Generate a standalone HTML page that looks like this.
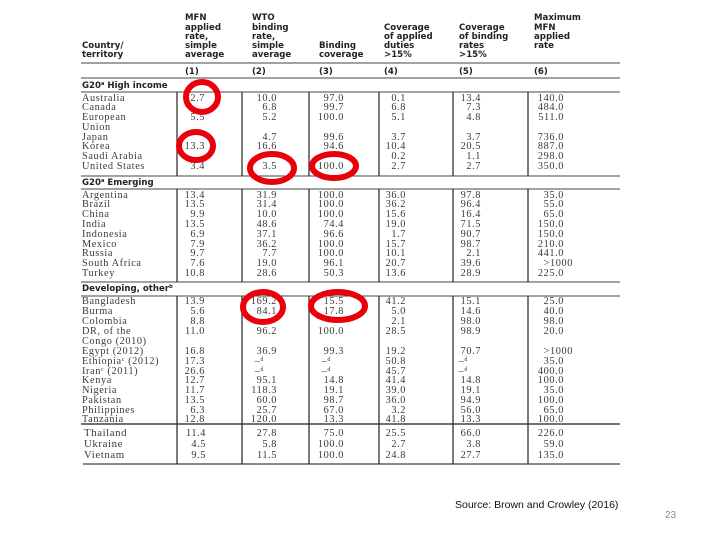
<!DOCTYPE html>
<html><head><meta charset="utf-8"><style>
html,body{margin:0;padding:0;background:#fff;}
svg{display:block;}
.h{font-family:"DejaVu Sans","Liberation Sans",sans-serif;font-weight:bold;font-size:8.6px;fill:#222;}
.t{font-family:"Liberation Serif",serif;font-size:10.3px;fill:#3a3a3a;letter-spacing:0.6px;}
.r{text-anchor:end;}
</style></head><body>
<svg width="720" height="540" viewBox="0 0 720 540" xmlns="http://www.w3.org/2000/svg">
<g class="h">
<text x="185" y="20">MFN</text><text x="185" y="30">applied</text><text x="185" y="39">rate,</text><text x="185" y="48">simple</text><text x="185" y="57">average</text>
<text x="252" y="20">WTO</text><text x="252" y="30">binding</text><text x="252" y="39">rate,</text><text x="252" y="48">simple</text><text x="252" y="57">average</text>
<text x="82" y="48">Country/</text><text x="82" y="57">territory</text>
<text x="319" y="48">Binding</text><text x="319" y="57">coverage</text>
<text x="384" y="30">Coverage</text><text x="384" y="39">of applied</text><text x="384" y="48">duties</text><text x="384" y="57">&gt;15%</text>
<text x="459" y="30">Coverage</text><text x="459" y="39">of binding</text><text x="459" y="48">rates</text><text x="459" y="57">&gt;15%</text>
<text x="534" y="20">Maximum</text><text x="534" y="30">MFN</text><text x="534" y="39">applied</text><text x="534" y="48">rate</text>
<text x="185" y="74">(1)</text><text x="252" y="74">(2)</text><text x="319" y="74">(3)</text><text x="384" y="74">(4)</text><text x="459" y="74">(5)</text><text x="534" y="74">(6)</text>
<text x="82" y="88" font-size="8.6">G20<tspan font-size="5" dy="-3">a</tspan><tspan dy="3"> High income</tspan></text>
<text x="82" y="185" font-size="8.6">G20<tspan font-size="5" dy="-3">a</tspan><tspan dy="3"> Emerging</tspan></text>
<text x="82" y="291" font-size="8.6">Developing, other<tspan font-size="5" dy="-3">b</tspan></text>
</g>
<g stroke="#444" stroke-width="1">
<line x1="81" y1="63" x2="620" y2="63"/>
<line x1="81" y1="78" x2="620" y2="78"/>
<line x1="81" y1="92" x2="620" y2="92"/>
<line x1="81" y1="176" x2="620" y2="176"/>
<line x1="81" y1="189" x2="620" y2="189"/>
<line x1="81" y1="282" x2="620" y2="282"/>
<line x1="81" y1="296" x2="620" y2="296"/>
<line x1="81" y1="424" x2="620" y2="424" stroke-width="1.5"/>
<line x1="83" y1="464" x2="620" y2="464" stroke-width="1.3"/>
</g>
<g stroke="#333" stroke-width="1.3">
<path d="M177 92V176M177 189V282M177 296V464"/>
<path d="M242 92V176M242 189V282M242 296V464"/>
<path d="M309 92V176M309 189V282M309 296V464"/>
<path d="M379 92V176M379 189V282M379 296V464"/>
<path d="M453 92V176M453 189V282M453 296V464"/>
<path d="M528 92V176M528 189V282M528 296V464"/>
</g>
<g class="t">
<text x="82" y="101">Australia</text><text x="82" y="110">Canada</text><text x="82" y="120">European</text><text x="82" y="130">Union</text><text x="82" y="140">Japan</text><text x="82" y="149">Korea</text><text x="82" y="159">Saudi Arabia</text><text x="82" y="169">United States</text>
<text x="82" y="198">Argentina</text><text x="82" y="207">Brazil</text><text x="82" y="217">China</text><text x="82" y="227">India</text><text x="82" y="237">Indonesia</text><text x="82" y="247">Mexico</text><text x="82" y="256">Russia</text><text x="82" y="266">South Africa</text><text x="82" y="276">Turkey</text>
<text x="82" y="304">Bangladesh</text><text x="82" y="314">Burma</text><text x="82" y="324">Colombia</text><text x="82" y="334">DR, of the</text><text x="82" y="344">Congo (2010)</text><text x="82" y="354">Egypt (2012)</text><text x="82" y="364">Ethiopia<tspan font-size="6" dy="-3">c</tspan><tspan dy="3"> (2012)</tspan></text><text x="82" y="374">Iran<tspan font-size="6" dy="-3">c</tspan><tspan dy="3"> (2011)</tspan></text><text x="82" y="383">Kenya</text><text x="82" y="393">Nigeria</text><text x="82" y="403">Pakistan</text><text x="82" y="413">Philippines</text><text x="82" y="422">Tanzania</text>
<text x="84" y="436" font-size="10.8">Thailand</text><text x="84" y="447" font-size="10.8">Ukraine</text><text x="84" y="458" font-size="10.8">Vietnam</text>
</g>
<g class="t r">
<text x="205" y="101">2.7</text><text x="205" y="120">5.5</text><text x="205" y="149">13.3</text><text x="205" y="169">3.4</text>
<text x="205" y="198">13.4</text><text x="205" y="207">13.5</text><text x="205" y="217">9.9</text><text x="205" y="227">13.5</text><text x="205" y="237">6.9</text><text x="205" y="247">7.9</text><text x="205" y="256">9.7</text><text x="205" y="266">7.6</text><text x="205" y="276">10.8</text>
<text x="205" y="304">13.9</text><text x="205" y="314">5.6</text><text x="205" y="324">8.8</text><text x="205" y="334">11.0</text><text x="205" y="354">16.8</text><text x="205" y="364">17.3</text><text x="205" y="374">26.6</text><text x="205" y="383">12.7</text><text x="205" y="393">11.7</text><text x="205" y="403">13.5</text><text x="205" y="413">6.3</text><text x="205" y="422">12.8</text>
<text x="206" y="436">11.4</text><text x="206" y="447">4.5</text><text x="206" y="458">9.5</text>
<text x="277" y="101">10.0</text><text x="277" y="110">6.8</text><text x="277" y="120">5.2</text><text x="277" y="140">4.7</text><text x="277" y="149">16.6</text><text x="277" y="169">3.5</text>
<text x="277" y="198">31.9</text><text x="277" y="207">31.4</text><text x="277" y="217">10.0</text><text x="277" y="227">48.6</text><text x="277" y="237">37.1</text><text x="277" y="247">36.2</text><text x="277" y="256">7.7</text><text x="277" y="266">19.0</text><text x="277" y="276">28.6</text>
<text x="277" y="304">169.2</text><text x="277" y="314">84.1</text><text x="277" y="334">96.2</text><text x="277" y="354">36.9</text><text x="264" y="364">–<tspan font-size="6" dy="-3">d</tspan></text><text x="264" y="374">–<tspan font-size="6" dy="-3">d</tspan></text><text x="277" y="383">95.1</text><text x="277" y="393">118.3</text><text x="277" y="403">60.0</text><text x="277" y="413">25.7</text><text x="277" y="422">120.0</text>
<text x="277" y="436">27.8</text><text x="277" y="447">5.8</text><text x="277" y="458">11.5</text>
<text x="344" y="101">97.0</text><text x="344" y="110">99.7</text><text x="344" y="120">100.0</text><text x="344" y="140">99.6</text><text x="344" y="149">94.6</text><text x="344" y="169">100.0</text>
<text x="344" y="198">100.0</text><text x="344" y="207">100.0</text><text x="344" y="217">100.0</text><text x="344" y="227">74.4</text><text x="344" y="237">96.6</text><text x="344" y="247">100.0</text><text x="344" y="256">100.0</text><text x="344" y="266">96.1</text><text x="344" y="276">50.3</text>
<text x="344" y="304">15.5</text><text x="344" y="314">17.8</text><text x="344" y="334">100.0</text><text x="344" y="354">99.3</text><text x="331" y="364">–<tspan font-size="6" dy="-3">d</tspan></text><text x="331" y="374">–<tspan font-size="6" dy="-3">d</tspan></text><text x="344" y="383">14.8</text><text x="344" y="393">19.1</text><text x="344" y="403">98.7</text><text x="344" y="413">67.0</text><text x="344" y="422">13.3</text>
<text x="344" y="436">75.0</text><text x="344" y="447">100.0</text><text x="344" y="458">100.0</text>
<text x="406" y="101">0.1</text><text x="406" y="110">6.8</text><text x="406" y="120">5.1</text><text x="406" y="140">3.7</text><text x="406" y="149">10.4</text><text x="406" y="159">0.2</text><text x="406" y="169">2.7</text>
<text x="406" y="198">36.0</text><text x="406" y="207">36.2</text><text x="406" y="217">15.6</text><text x="406" y="227">19.0</text><text x="406" y="237">1.7</text><text x="406" y="247">15.7</text><text x="406" y="256">10.1</text><text x="406" y="266">20.7</text><text x="406" y="276">13.6</text>
<text x="406" y="304">41.2</text><text x="406" y="314">5.0</text><text x="406" y="324">2.1</text><text x="406" y="334">28.5</text><text x="406" y="354">19.2</text><text x="406" y="364">50.8</text><text x="406" y="374">45.7</text><text x="406" y="383">41.4</text><text x="406" y="393">39.0</text><text x="406" y="403">36.0</text><text x="406" y="413">3.2</text><text x="406" y="422">41.8</text>
<text x="406" y="436">25.5</text><text x="406" y="447">2.7</text><text x="406" y="458">24.8</text>
<text x="481" y="101">13.4</text><text x="481" y="110">7.3</text><text x="481" y="120">4.8</text><text x="481" y="140">3.7</text><text x="481" y="149">20.5</text><text x="481" y="159">1.1</text><text x="481" y="169">2.7</text>
<text x="481" y="198">97.8</text><text x="481" y="207">96.4</text><text x="481" y="217">16.4</text><text x="481" y="227">71.5</text><text x="481" y="237">90.7</text><text x="481" y="247">98.7</text><text x="481" y="256">2.1</text><text x="481" y="266">39.6</text><text x="481" y="276">28.9</text>
<text x="481" y="304">15.1</text><text x="481" y="314">14.6</text><text x="481" y="324">98.0</text><text x="481" y="334">98.9</text><text x="481" y="354">70.7</text><text x="468" y="364">–<tspan font-size="6" dy="-3">d</tspan></text><text x="468" y="374">–<tspan font-size="6" dy="-3">d</tspan></text><text x="481" y="383">14.8</text><text x="481" y="393">19.1</text><text x="481" y="403">94.9</text><text x="481" y="413">56.0</text><text x="481" y="422">13.3</text>
<text x="481" y="436">66.0</text><text x="481" y="447">3.8</text><text x="481" y="458">27.7</text>
<text x="564" y="101">140.0</text><text x="564" y="110">484.0</text><text x="564" y="120">511.0</text><text x="564" y="140">736.0</text><text x="564" y="149">887.0</text><text x="564" y="159">298.0</text><text x="564" y="169">350.0</text>
<text x="564" y="198">35.0</text><text x="564" y="207">55.0</text><text x="564" y="217">65.0</text><text x="564" y="227">150.0</text><text x="564" y="237">150.0</text><text x="564" y="247">210.0</text><text x="564" y="256">441.0</text><text x="573" y="266">&gt;1000</text><text x="564" y="276">225.0</text>
<text x="564" y="304">25.0</text><text x="564" y="314">40.0</text><text x="564" y="324">98.0</text><text x="564" y="334">20.0</text><text x="573" y="354">&gt;1000</text><text x="564" y="364">35.0</text><text x="564" y="374">400.0</text><text x="564" y="383">100.0</text><text x="564" y="393">35.0</text><text x="564" y="403">100.0</text><text x="564" y="413">65.0</text><text x="564" y="422">100.0</text>
<text x="564" y="436">226.0</text><text x="564" y="447">59.0</text><text x="564" y="458">135.0</text>
</g>
<g fill="none" stroke="#e8000b" stroke-width="6">
<ellipse cx="202" cy="97" rx="16" ry="15"/>
<ellipse cx="196" cy="146" rx="17" ry="14"/>
<ellipse cx="272" cy="168" rx="22" ry="14"/>
<ellipse cx="334" cy="166" rx="22" ry="12"/>
<ellipse cx="263" cy="307" rx="20" ry="15"/>
<ellipse cx="338" cy="306" rx="27" ry="14"/>
</g>
<text x="455" y="508" font-family="Liberation Sans, sans-serif" font-size="10.5" fill="#111">Source: Brown and Crowley (2016)</text>
<text x="665" y="518" font-family="Liberation Sans, sans-serif" font-size="10" fill="#888">23</text>
</svg>
</body></html>
